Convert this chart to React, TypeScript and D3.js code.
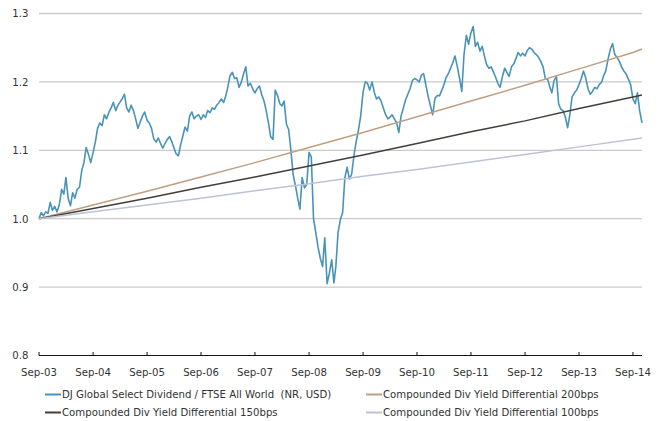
import { scaleTime, scaleLinear, line as d3line, format } from "d3";

// half-monthly readings of DJ Global Select Dividend / FTSE All World, from Sep-03
const relativeValues = [
  1.0, 1.009, 1.004, 1.01, 1.008, 1.024, 1.012, 1.018, 1.01, 1.02, 1.043, 1.036,
  1.06, 1.03, 1.019, 1.038, 1.03, 1.043, 1.046, 1.07, 1.082, 1.104, 1.094, 1.082,
  1.097, 1.112, 1.132, 1.14, 1.136, 1.152, 1.146, 1.155, 1.162, 1.17, 1.158, 1.166,
  1.17, 1.175, 1.182, 1.162, 1.156, 1.166, 1.158, 1.146, 1.132, 1.141, 1.15, 1.156,
  1.144, 1.14, 1.132, 1.117, 1.112, 1.118, 1.11, 1.103, 1.11, 1.116, 1.12, 1.112,
  1.104, 1.095, 1.092, 1.108, 1.121, 1.134, 1.128, 1.15, 1.156, 1.146, 1.15, 1.152,
  1.145, 1.152, 1.148, 1.158, 1.155, 1.162, 1.16, 1.166, 1.17, 1.175, 1.17, 1.18,
  1.192, 1.209, 1.214, 1.205, 1.206, 1.192, 1.2, 1.212, 1.222, 1.194, 1.198, 1.19,
  1.184, 1.19, 1.194, 1.182, 1.172, 1.158, 1.14, 1.12, 1.116, 1.188, 1.18, 1.168,
  1.165, 1.172, 1.138, 1.13, 1.1, 1.065, 1.048, 1.03, 1.014, 1.06, 1.045, 1.05,
  1.097, 1.09, 1.0, 0.98, 0.958, 0.942, 0.93, 0.972, 0.905, 0.92, 0.94, 0.906,
  0.93, 0.98, 0.999, 1.009, 1.06, 1.075, 1.058, 1.065, 1.092, 1.112, 1.13, 1.15,
  1.185, 1.2, 1.198, 1.188, 1.2, 1.185, 1.175, 1.178, 1.172, 1.162, 1.152, 1.146,
  1.148, 1.152, 1.146, 1.14, 1.126, 1.15, 1.162, 1.174, 1.182, 1.19, 1.202, 1.205,
  1.203, 1.2, 1.21, 1.212, 1.194, 1.178, 1.165, 1.152, 1.176, 1.18, 1.18, 1.188,
  1.195, 1.206, 1.212, 1.22, 1.228, 1.238, 1.222, 1.205, 1.186, 1.24, 1.268, 1.255,
  1.272, 1.281, 1.252, 1.258, 1.245, 1.252, 1.238, 1.225, 1.22, 1.222, 1.214, 1.206,
  1.198, 1.192, 1.208, 1.22, 1.214, 1.208, 1.222, 1.226, 1.234, 1.243, 1.238, 1.242,
  1.238, 1.246, 1.25, 1.248, 1.243, 1.24, 1.236, 1.23, 1.222, 1.205, 1.204, 1.192,
  1.184, 1.202, 1.208, 1.168, 1.16, 1.158, 1.148, 1.133, 1.152, 1.178, 1.184, 1.188,
  1.196, 1.205, 1.216, 1.206, 1.19, 1.182, 1.186, 1.192, 1.19, 1.196, 1.2, 1.21,
  1.216, 1.233, 1.248, 1.256, 1.24, 1.236, 1.23, 1.222, 1.216, 1.212, 1.204, 1.196,
  1.175, 1.168, 1.184, 1.158, 1.14,
];

// compounded yield differential lines, read at each September and at the last date
const diff200 = [1.0, 1.02, 1.04, 1.061, 1.082, 1.104, 1.126, 1.149, 1.172, 1.195, 1.219, 1.243, 1.248];
const diff150 = [1.0, 1.015, 1.03, 1.046, 1.061, 1.077, 1.093, 1.11, 1.127, 1.143, 1.161, 1.178, 1.181];
const diff100 = [1.0, 1.01, 1.02, 1.03, 1.041, 1.051, 1.062, 1.072, 1.083, 1.094, 1.105, 1.116, 1.118];

const xTickLabels = [
  "Sep-03", "Sep-04", "Sep-05", "Sep-06", "Sep-07", "Sep-08",
  "Sep-09", "Sep-10", "Sep-11", "Sep-12", "Sep-13", "Sep-14",
];
const yTicks = [0.8, 0.9, 1.0, 1.1, 1.2, 1.3];

const seriesNames = [
  "DJ Global Select Dividend / FTSE All World  (NR, USD)",
  "Compounded Div Yield Differential 200bps",
  "Compounded Div Yield Differential 150bps",
  "Compounded Div Yield Differential 100bps",
];
const seriesColors = ["#4a93b8", "#bf9f84", "#433e3a", "#bcc3d6"];

const WIDTH = 658;
const HEIGHT = 421;
const PLOT = { left: 39, right: 642, top: 13.5, bottom: 355.5 };
const FONT = "'Liberation Sans Narrow', 'DejaVu Sans Condensed', 'Roboto', sans-serif";
const FS = 11.3;

const startDate = new Date(2003, 8, 1);
const dates = relativeValues.map((_, i) => new Date(2003, 8 + Math.floor(i / 2), i % 2 ? 16 : 1));
const endDate = dates[dates.length - 1];
const tickDates = xTickLabels.map((_, i) => new Date(2003 + i, 8, 1));
const diffDates = [...tickDates, endDate];

type Pt = { d: Date; v: number };

export default function App() {
  const x = scaleTime().domain([startDate, endDate]).range([PLOT.left, PLOT.right]);
  const y = scaleLinear().domain([0.8, 1.3]).range([PLOT.bottom, PLOT.top]);
  const fmt = format(".1f");

  const gen = d3line<Pt>()
    .x((p) => x(p.d))
    .y((p) => y(p.v));

  const mainPts = relativeValues.map((v, i) => ({ d: dates[i], v }));
  const toPts = (arr: number[]) => arr.map((v, i) => ({ d: diffDates[i], v }));
  const paths = [gen(mainPts), gen(toPts(diff200)), gen(toPts(diff150)), gen(toPts(diff100))];

  const legendPos = [
    { x: 45, y: 394.5 },
    { x: 366, y: 394.5 },
    { x: 45, y: 412.5 },
    { x: 366, y: 412.5 },
  ];

  return (
    <svg
      width={WIDTH}
      height={HEIGHT}
      style={{ position: "absolute", left: 0, top: 0, background: "#fff" }}
      fontFamily={FONT}
    >
      {yTicks.map((t) => (
        <g key={t}>
          {t > 0.8 && (
            <line x1={PLOT.left} x2={PLOT.right} y1={y(t)} y2={y(t)} stroke="#cacaca" strokeWidth={1.3} />
          )}
          <text x={28.5} y={y(t)} dy="0.35em" textAnchor="end" fontSize={FS} fill="#333">
            {fmt(t)}
          </text>
        </g>
      ))}

      {paths.map((d, i) => (
        <path
          key={i}
          d={d ?? ""}
          fill="none"
          stroke={seriesColors[i]}
          strokeWidth={i === 0 ? 1.6 : 1.5}
          strokeLinejoin="round"
        />
      ))}

      <line x1={PLOT.left} x2={PLOT.right} y1={PLOT.bottom} y2={PLOT.bottom} stroke="#111" strokeWidth={1.2} />
      {tickDates.map((td, i) => (
        <g key={i}>
          <line x1={x(td)} x2={x(td)} y1={PLOT.bottom - 3.5} y2={PLOT.bottom} stroke="#111" strokeWidth={1} />
          <text x={x(td)} y={372} dy="0.35em" textAnchor="middle" fontSize={FS} fill="#333">
            {xTickLabels[i]}
          </text>
        </g>
      ))}

      {seriesNames.map((name, i) => (
        <g key={name} transform={`translate(${legendPos[i].x},${legendPos[i].y})`}>
          <line x1={0} x2={16} y1={0} y2={0} stroke={seriesColors[i]} strokeWidth={2} />
          <text x={17} y={0} dy="0.35em" fontSize={FS} fill="#333" style={{ whiteSpace: "pre" }}>
            {name}
          </text>
        </g>
      ))}
    </svg>
  );
}
